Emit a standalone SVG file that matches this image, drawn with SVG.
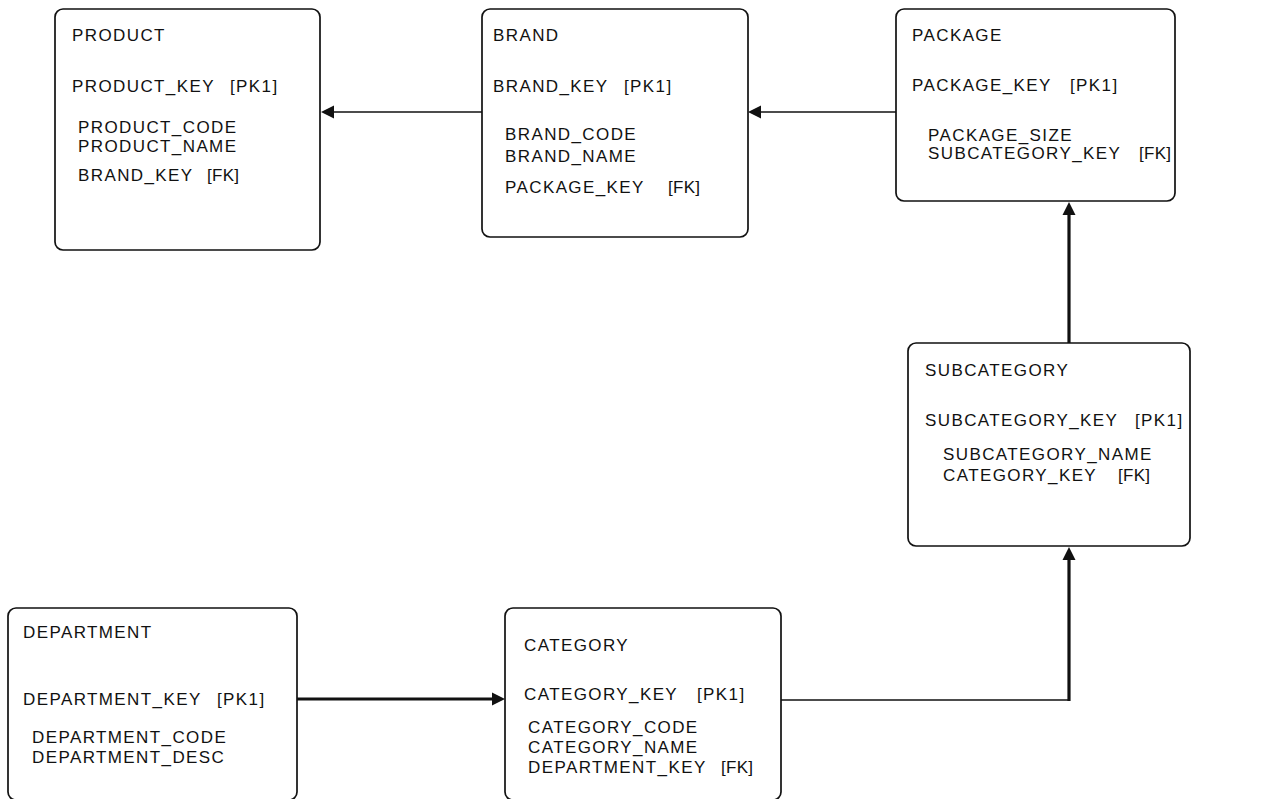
<svg xmlns="http://www.w3.org/2000/svg" width="1263" height="799" viewBox="0 0 1263 799">
<style>
.box{fill:#fff;stroke:#111;stroke-width:1.7}
text{font-family:"Liberation Sans",Arial,sans-serif;font-size:17px;letter-spacing:1.4px;fill:#111}
.fk{letter-spacing:0.3px}
.thin{stroke:#111;stroke-width:1.6;fill:none}
.thick{stroke:#111;stroke-width:3.2;fill:none}
</style>
<defs>
<marker id="arr" markerUnits="userSpaceOnUse" markerWidth="14" markerHeight="14" refX="0" refY="6.5" orient="auto" viewBox="0 0 14 13">
<path d="M0,0 L13,6.5 L0,13 z" fill="#111"/>
</marker>
</defs>
<rect width="1263" height="799" fill="#fff"/>
<g id="connectors">
<line class="thin" x1="482" y1="112" x2="334" y2="112" marker-end="url(#arr)"/>
<line class="thin" x1="896" y1="112" x2="761" y2="112" marker-end="url(#arr)"/>
<line class="thick" x1="1069" y1="343" x2="1069" y2="215" marker-end="url(#arr)"/>
<line class="thick" x1="297" y1="699" x2="492" y2="699" marker-end="url(#arr)"/>
<line class="thin" x1="781" y1="700" x2="1070" y2="700"/>
<line class="thick" x1="1069" y1="701" x2="1069" y2="560" marker-end="url(#arr)"/>
</g>
<g id="product">
<rect class="box" x="55" y="9" width="265" height="241" rx="8"/>
<text x="72" y="41">PRODUCT</text>
<text x="72" y="92">PRODUCT_KEY<tspan x="230">[PK1]</tspan></text>
<text x="78" y="133">PRODUCT_CODE</text>
<text x="78" y="152">PRODUCT_NAME</text>
<text x="78" y="181">BRAND_KEY<tspan class="fk" x="207">[FK]</tspan></text>
</g>
<g id="brand">
<rect class="box" x="482" y="9" width="266" height="228" rx="8"/>
<text x="493" y="41">BRAND</text>
<text x="493" y="92">BRAND_KEY<tspan x="624">[PK1]</tspan></text>
<text x="505" y="140">BRAND_CODE</text>
<text x="505" y="162">BRAND_NAME</text>
<text x="505" y="193">PACKAGE_KEY<tspan class="fk" x="668">[FK]</tspan></text>
</g>
<g id="package">
<rect class="box" x="896" y="9" width="279" height="192" rx="8"/>
<text x="912" y="41">PACKAGE</text>
<text x="912" y="91">PACKAGE_KEY<tspan x="1070">[PK1]</tspan></text>
<text x="928" y="141">PACKAGE_SIZE</text>
<text x="928" y="159">SUBCATEGORY_KEY<tspan class="fk" x="1139">[FK]</tspan></text>
</g>
<g id="subcategory">
<rect class="box" x="908" y="343" width="282" height="203" rx="8"/>
<text x="925" y="376">SUBCATEGORY</text>
<text x="925" y="426">SUBCATEGORY_KEY<tspan x="1135">[PK1]</tspan></text>
<text x="943" y="460">SUBCATEGORY_NAME</text>
<text x="943" y="481">CATEGORY_KEY<tspan class="fk" x="1118">[FK]</tspan></text>
</g>
<g id="department">
<rect class="box" x="8" y="608" width="289" height="192" rx="8"/>
<text x="23" y="638">DEPARTMENT</text>
<text x="23" y="705">DEPARTMENT_KEY<tspan x="217">[PK1]</tspan></text>
<text x="32" y="743">DEPARTMENT_CODE</text>
<text x="32" y="763">DEPARTMENT_DESC</text>
</g>
<g id="category">
<rect class="box" x="505" y="608" width="276" height="192" rx="8"/>
<text x="524" y="651">CATEGORY</text>
<text x="524" y="700">CATEGORY_KEY<tspan x="697">[PK1]</tspan></text>
<text x="528" y="733">CATEGORY_CODE</text>
<text x="528" y="753">CATEGORY_NAME</text>
<text x="528" y="773">DEPARTMENT_KEY<tspan class="fk" x="721">[FK]</tspan></text>
</g>
</svg>
